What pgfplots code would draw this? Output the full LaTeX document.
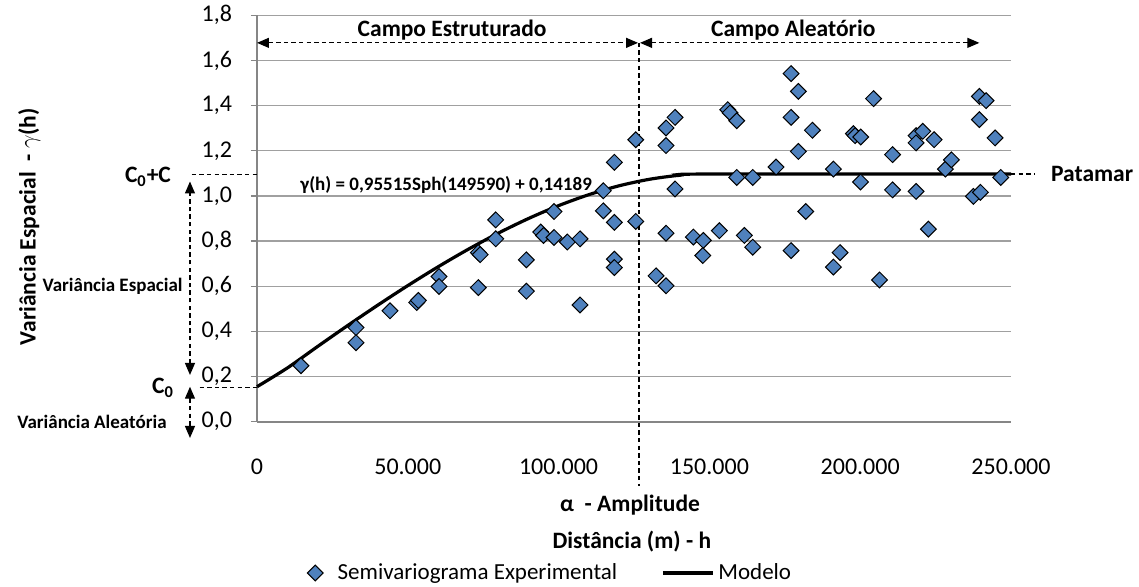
\documentclass[border=0pt]{standalone}
\usepackage{pgfplots}
\pgfplotsset{compat=1.18}
\usepackage{fontspec}
\setmainfont{Carlito}
\usetikzlibrary{arrows.meta}
\definecolor{mkblue}{HTML}{4F81BD}
\definecolor{gridgray}{HTML}{A0A0A0}
\definecolor{axgray}{HTML}{868686}

\pgfplotstableread{
x y
14590 0.248
32830 0.417
32830 0.350
44100 0.491
52950 0.528
53500 0.537
60350 0.643
60350 0.599
73390 0.749
74000 0.740
73390 0.594
79150 0.894
79150 0.810
89310 0.717
89310 0.578
94080 0.840
95000 0.825
98490 0.931
98490 0.816
102900 0.796
107110 0.810
107110 0.517
114840 1.023
114840 0.934
118490 1.149
118490 0.883
118490 0.720
118490 0.683
125580 1.249
125580 0.887
132300 0.646
135620 1.301
135620 1.223
135620 0.835
135620 0.602
138610 1.348
138610 1.031
144680 0.818
148000 0.803
147800 0.736
153300 0.846
156080 1.382
156850 1.368
159060 1.333
159060 1.082
161590 0.825
164370 1.082
164370 0.773
172100 1.128
177080 1.542
177080 1.348
177080 0.758
179500 1.463
179500 1.197
181950 0.931
184150 1.291
191120 1.119
191120 0.685
193330 0.749
197770 1.276
198300 1.267
200190 1.261
200110 1.062
204420 1.431
206410 0.628
210720 1.183
210720 1.027
218520 1.267
220740 1.286
218520 1.235
218520 1.020
222610 0.853
224500 1.249
228250 1.119
230240 1.160
237550 0.998
239850 1.016
239520 1.441
241740 1.422
239520 1.338
244730 1.257
246610 1.082
}\expdata

\pgfplotstableread{
x y
0 0.1550
10000 0.2375
20000 0.3323
30000 0.4254
40000 0.5159
50000 0.6029
60000 0.6857
70000 0.7634
80000 0.8351
90000 0.8999
100000 0.9570
110000 1.0055
120000 1.0447
130000 1.0735
140000 1.0913
149590 1.0970
250000 1.0970
}\modelo

\begin{document}
\begin{tikzpicture}
\useasboundingbox (-128.5pt,-82.15pt) rectangle (441pt,210.85pt);
\begin{axis}[
  width=377pt, height=203.2pt, scale only axis,
  xmin=0, xmax=250000, ymin=0, ymax=1.8,
  clip=false,
  axis x line*=bottom, axis y line*=left,
  axis line style={-, draw=axgray, line width=0.8pt},
  ytick={0,0.2,0.4,0.6,0.8,1.0,1.2,1.4,1.6,1.8},
  xtick={0,50000,100000,150000,200000,250000},
  scaled x ticks=false, scaled y ticks=false,
  ymajorgrids, grid style={gridgray, line width=0.6pt},
  tick align=outside, major tick length=3pt,
  xtick style={draw=none},
  ytick style={draw=axgray, line width=0.6pt},
  tick label style={font=\fontsize{12}{14}\selectfont},
  yticklabel style={/pgf/number format/.cd, fixed, fixed zerofill, precision=1, use comma, assume math mode=true, /tikz/.cd, xshift=-6pt},
  xticklabel style={/pgf/number format/.cd, fixed, precision=0, 1000 sep={.}, assume math mode=true, /tikz/.cd, yshift=-12pt},
  legend style={at={(0.3886,-0.3723)}, anchor=center, draw=none, fill=none,
    legend columns=2, font=\fontsize{11.5}{13}\selectfont,
    /tikz/every even column/.append style={column sep=20pt}},
  legend cell align=left,
]
\addplot[only marks, mark=square*, mark size=2.8pt,
  mark options={rotate=45, fill=mkblue, draw=black, line width=0.5pt},
  legend image code/.code={\draw[mark=square*, mark size=2.8pt, mark options={rotate=45, fill=mkblue, draw=black, line width=0.5pt}] plot coordinates {(3pt,0pt)}; \path (-2pt,0pt) (12pt,0pt);}]
  table[x=x, y=y] {\expdata};
\addlegendentry{Semivariograma Experimental}
\addplot[black, line width=1.6pt, smooth,
  legend image code/.code={\draw[black, line width=1.6pt] (0pt,0pt) -- (25pt,0pt);}]
  table[x=x, y=y] {\modelo};
\addlegendentry{Modelo}

% dashed guides
\draw[dash pattern=on 2.2pt off 1.6pt, line width=0.6pt] (axis cs:126670,1.678) -- (axis cs:126670,-0.285);
\draw[dash pattern=on 2.2pt off 1.6pt, line width=0.6pt, {Triangle[length=6pt,width=5pt]}-{Triangle[length=6pt,width=5pt]}]
  (axis cs:0,1.678) -- (axis cs:126340,1.678);
\draw[dash pattern=on 2.2pt off 1.6pt, line width=0.6pt, {Triangle[length=6pt,width=5pt]}-{Triangle[length=6pt,width=5pt]}]
  (axis cs:127000,1.678) -- (axis cs:239510,1.678);
\node[font=\bfseries\fontsize{11.75}{13}\selectfont] at (axis cs:64700,1.735) {Campo Estruturado};
\node[font=\bfseries\fontsize{11.75}{13}\selectfont] at (axis cs:177800,1.735) {Campo Aleatório};

\draw[dash pattern=on 2.2pt off 1.6pt, line width=0.6pt] (axis cs:-21650,1.094) -- (axis cs:0,1.094);
\draw[dash pattern=on 2.2pt off 1.6pt, line width=0.6pt] (axis cs:-19000,0.152) -- (axis cs:0,0.152);
\draw[dash pattern=on 2.2pt off 1.6pt, line width=0.6pt] (axis cs:250000,1.097) -- (axis cs:258000,1.097);
\draw[dash pattern=on 2.2pt off 1.6pt, line width=0.6pt, {Triangle[length=6pt,width=5pt]}-{Triangle[length=6pt,width=5pt]}]
  (axis cs:-22220,0.207) -- (axis cs:-22220,1.064);
\draw[dash pattern=on 2.2pt off 1.6pt, line width=0.6pt, {Triangle[length=6pt,width=5pt]}-{Triangle[length=6pt,width=5pt]}]
  (axis cs:-22220,0.155) -- (axis cs:-22220,-0.072);

\node[font=\bfseries\fontsize{11.75}{13}\selectfont] at (axis cs:-36150,1.085) {C\textsubscript{0}+C};
\node[font=\bfseries\fontsize{11.75}{13}\selectfont] at (axis cs:-31170,0.15) {C\textsubscript{0}};
\node[anchor=east, inner sep=0pt, font=\bfseries\fontsize{9.5}{11}\selectfont] at (axis cs:-24540,0.599) {Variância Espacial};
\node[anchor=east, inner sep=0pt, font=\bfseries\fontsize{9.5}{11}\selectfont] at (axis cs:-29840,0.0) {Variância Aleatória};
\node[rotate=90, font=\bfseries\fontsize{11.75}{13}\selectfont] at (axis cs:-75500,0.864) {Variância Espacial \ - $\gamma$(h)};
\node[anchor=west, inner sep=0pt, font=\bfseries\fontsize{9.5}{11}\selectfont] at (axis cs:14260,1.048) {γ(h) = 0,95515Sph(149590) + 0,14189};
\node[font=\bfseries\fontsize{11.75}{13}\selectfont] at (axis cs:276900,1.097) {Patamar};
\node[font=\bfseries\fontsize{11.75}{13}\selectfont] at (axis cs:123700,-0.369) {α \ - Amplitude};
\node[font=\bfseries\fontsize{11.75}{13}\selectfont] at (axis cs:124300,-0.532) {Distância (m) - h};
\end{axis}
\end{tikzpicture}
\end{document}
